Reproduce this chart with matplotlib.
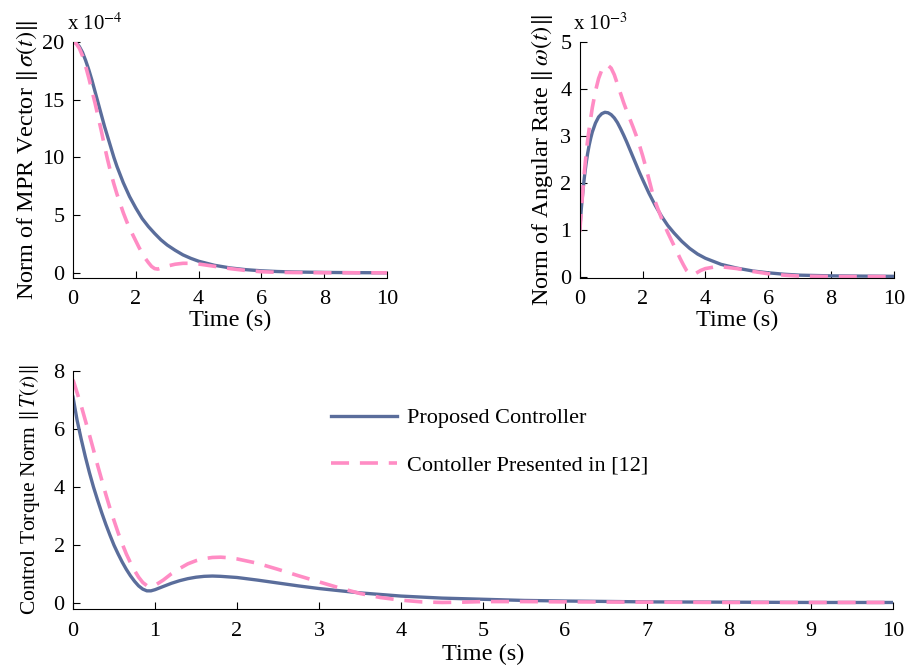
import matplotlib
matplotlib.use("Agg")
import matplotlib.pyplot as plt

plt.rcParams['font.family'] = ['Liberation Serif', 'DejaVu Serif']
plt.rcParams['mathtext.fontset'] = 'stix'

BLUE = '#5a6d9b'
PINK = '#ff8cc4'

# MPR vector norm (x 1e-4)
t_sig_p = [0, 0.1, 0.2, 0.3, 0.4, 0.5, 0.6, 0.7, 0.8, 0.9, 1.0, 1.1, 1.2, 1.3, 1.4, 1.5, 1.6, 1.7, 1.8, 1.9, 2.0,
           2.2, 2.4, 2.6, 2.8, 3.0, 3.25, 3.5, 3.75, 4.0, 4.5, 5.0, 5.5, 6.0, 6.5, 7.0, 8.0, 9.0, 10.0]
sig_p = [20, 19.9, 19.6, 19.1, 18.4, 17.6, 16.7, 15.7, 14.7, 13.7, 12.7, 11.8, 10.9, 10.0, 9.2, 8.5, 7.8, 7.2, 6.6, 6.1, 5.6,
         4.7, 4.0, 3.4, 2.85, 2.4, 1.95, 1.55, 1.25, 1.0, 0.65, 0.42, 0.27, 0.17, 0.11, 0.07, 0.03, 0.01, 0.0]
t_sig_c = [0, 0.1, 0.2, 0.3, 0.4, 0.5, 0.6, 0.7, 0.8, 0.9, 1.0, 1.1, 1.2, 1.3, 1.4, 1.5, 1.6, 1.7, 1.8, 1.9, 2.0,
           2.1, 2.2, 2.3, 2.4, 2.5, 2.6, 2.7, 2.8, 3.0, 3.25, 3.5, 3.75, 4.0, 4.5, 5.0, 5.5, 6.0, 6.5, 7.0, 8.0, 10.0]
sig_c = [20, 19.85, 19.45, 18.8, 17.9, 16.9, 15.8, 14.7, 13.5, 12.3, 11.0, 9.8, 8.7, 7.7, 6.8, 6.0, 5.2, 4.5, 3.85, 3.3, 2.75,
         2.2, 1.7, 1.25, 0.88, 0.55, 0.36, 0.32, 0.4, 0.58, 0.74, 0.82, 0.82, 0.76, 0.56, 0.36, 0.2, 0.09, 0.04, 0.02, 0.0, 0.0]

# angular rate norm (x 1e-3)
t_om_p = [0, 0.05, 0.1, 0.15, 0.2, 0.25, 0.3, 0.35, 0.4, 0.5, 0.6, 0.7, 0.8, 0.9, 1.0, 1.1, 1.2, 1.3, 1.4, 1.5, 1.6, 1.7,
          1.8, 1.9, 2.0, 2.2, 2.4, 2.6, 2.8, 3.0, 3.25, 3.5, 3.75, 4.0, 4.5, 5.0, 5.5, 6.0, 6.5, 7.0, 8.0, 9.0, 10.0]
om_p = [1.0, 1.45, 1.82, 2.13, 2.4, 2.62, 2.8, 2.95, 3.08, 3.27, 3.4, 3.47, 3.5, 3.49, 3.45, 3.38, 3.28, 3.15, 3.01, 2.86, 2.7, 2.54,
        2.38, 2.22, 2.07, 1.78, 1.52, 1.29, 1.09, 0.93, 0.75, 0.6, 0.48, 0.39, 0.26, 0.18, 0.12, 0.08, 0.05, 0.03, 0.015, 0.01, 0.005]
t_om_c = [0, 0.05, 0.1, 0.15, 0.2, 0.25, 0.3, 0.4, 0.5, 0.6, 0.7, 0.8, 0.9, 1.0, 1.1, 1.2, 1.3, 1.4, 1.5, 1.6, 1.7, 1.8, 1.9,
          2.0, 2.1, 2.2, 2.3, 2.4, 2.5, 2.6, 2.7, 2.8, 2.9, 3.0, 3.1, 3.2, 3.3, 3.4, 3.5, 3.6, 3.7, 3.85, 4.0, 4.25, 4.5,
          5.0, 5.5, 6.0, 6.5, 7.0, 8.0, 10.0]
om_c = [0.95, 1.4, 1.85, 2.25, 2.6, 2.9, 3.15, 3.6, 3.95, 4.22, 4.4, 4.49, 4.5, 4.44, 4.3, 4.1, 3.9, 3.7, 3.52, 3.35, 3.18, 3.0, 2.8,
        2.58, 2.34, 2.08, 1.82, 1.6, 1.42, 1.25, 1.09, 0.94, 0.8, 0.66, 0.52, 0.38, 0.25, 0.13, 0.06, 0.04, 0.07, 0.13, 0.17, 0.2, 0.21,
        0.17, 0.11, 0.06, 0.03, 0.01, 0.0, 0.0]

# control torque norm
t_tq_p = [0, 0.05, 0.1, 0.15, 0.2, 0.25, 0.3, 0.35, 0.4, 0.45, 0.5, 0.55, 0.6, 0.65, 0.7, 0.75, 0.8, 0.85, 0.9, 0.95, 1.0,
          1.1, 1.2, 1.3, 1.4, 1.5, 1.6, 1.7, 1.8, 2.0, 2.25, 2.5, 2.75, 3.0, 3.5, 4.0, 4.5, 5.0, 5.5, 6.0, 7.0, 8.0, 9.0, 10.0]
tq_p = [7.1, 6.3, 5.65, 5.05, 4.5, 4.0, 3.55, 3.12, 2.72, 2.35, 2.0, 1.7, 1.42, 1.17, 0.95, 0.76, 0.6, 0.49, 0.43, 0.43, 0.47,
        0.58, 0.69, 0.78, 0.85, 0.9, 0.93, 0.94, 0.93, 0.89, 0.8, 0.7, 0.6, 0.51, 0.36, 0.25, 0.18, 0.14, 0.1, 0.08, 0.05, 0.04, 0.03, 0.03]
t_tq_c = [0, 0.05, 0.1, 0.15, 0.2, 0.25, 0.3, 0.35, 0.4, 0.45, 0.5, 0.55, 0.6, 0.65, 0.7, 0.75, 0.8, 0.85, 0.9, 0.95, 1.0,
          1.1, 1.2, 1.3, 1.4, 1.5, 1.6, 1.7, 1.8, 1.9, 2.0, 2.25, 2.5, 2.75, 3.0, 3.25, 3.5, 3.75, 4.0, 4.25, 4.5, 4.75,
          5.0, 5.5, 6.0, 7.0, 8.0, 10.0]
tq_c = [7.7, 7.25, 6.8, 6.3, 5.8, 5.28, 4.75, 4.25, 3.75, 3.28, 2.85, 2.43, 2.05, 1.7, 1.4, 1.13, 0.9, 0.72, 0.61, 0.58, 0.62,
        0.8, 1.02, 1.2, 1.36, 1.47, 1.54, 1.58, 1.59, 1.57, 1.53, 1.38, 1.17, 0.95, 0.74, 0.53, 0.34, 0.2, 0.11, 0.05, 0.03, 0.04,
        0.06, 0.06, 0.05, 0.04, 0.03, 0.03]

labels = ['Proposed Controller', 'Contoller Presented in [12]']

fig = plt.figure(figsize=(9.13, 6.65), dpi=100)
ax1 = fig.add_axes([0.080, 0.582, 0.344, 0.355])
ax2 = fig.add_axes([0.635, 0.582, 0.344, 0.355])
ax3 = fig.add_axes([0.080, 0.084, 0.898, 0.358])

TICK = 16
LAB = 17.5


def style(ax):
    for s in ['top', 'right']:
        ax.spines[s].set_visible(False)
    ax.tick_params(direction='in', length=5, labelsize=TICK)
    ax.tick_params(axis='x', pad=9)
    ax.tick_params(axis='y', pad=6)


ax1.plot(t_sig_p, sig_p, color=BLUE, lw=2.4)
ax1.plot(t_sig_c, sig_c, color=PINK, lw=2.6, ls=(0, (5, 3)))
ax1.set_xlim(0, 10)
ax1.set_ylim(-0.45, 20)
ax1.set_xticks([0, 2, 4, 6, 8, 10])
ax1.set_yticks([0, 5, 10, 15, 20])
ax1.set_xlabel('Time (s)', fontsize=LAB, labelpad=0)
ax1.set_ylabel(r'Norm of MPR Vector $\Vert\,\sigma(t)\Vert$', fontsize=LAB, labelpad=2)
ax1.text(-0.02, 1.03, r'x 10$^{-4}$', transform=ax1.transAxes, fontsize=15, va='bottom')
style(ax1)

ax2.plot(t_om_p, om_p, color=BLUE, lw=2.4)
ax2.plot(t_om_c, om_c, color=PINK, lw=2.6, ls=(0, (5, 3)))
ax2.set_xlim(0, 10)
ax2.set_ylim(-0.03, 5)
ax2.set_xticks([0, 2, 4, 6, 8, 10])
ax2.set_yticks([0, 1, 2, 3, 4, 5])
ax2.set_xlabel('Time (s)', fontsize=LAB, labelpad=0)
ax2.set_ylabel(r'Norm of Angular Rate $\Vert\,\omega(t)\Vert$', fontsize=LAB, labelpad=4)
ax2.text(-0.02, 1.03, r'x 10$^{-3}$', transform=ax2.transAxes, fontsize=15, va='bottom')
style(ax2)

ax3.plot(t_tq_p, tq_p, color=BLUE, lw=2.4, label=labels[0])
ax3.plot(t_tq_c, tq_c, color=PINK, lw=2.6, ls=(0, (5, 3)), label=labels[1])
ax3.set_xlim(0, 10)
ax3.set_ylim(-0.2, 8)
ax3.set_xticks(range(11))
ax3.set_yticks([0, 2, 4, 6, 8])
ax3.set_xlabel('Time (s)', fontsize=LAB, labelpad=2)
ax3.set_ylabel(r'Control Torque Norm $\Vert\,T(t)\Vert$', fontsize=15.5, labelpad=8)
style(ax3)
ax3.legend(loc='upper left', bbox_to_anchor=(0.29, 0.93), frameon=False, fontsize=16,
           handlelength=3.0, labelspacing=1.2, handletextpad=0.45)

fig.savefig('out.png', dpi=100)
